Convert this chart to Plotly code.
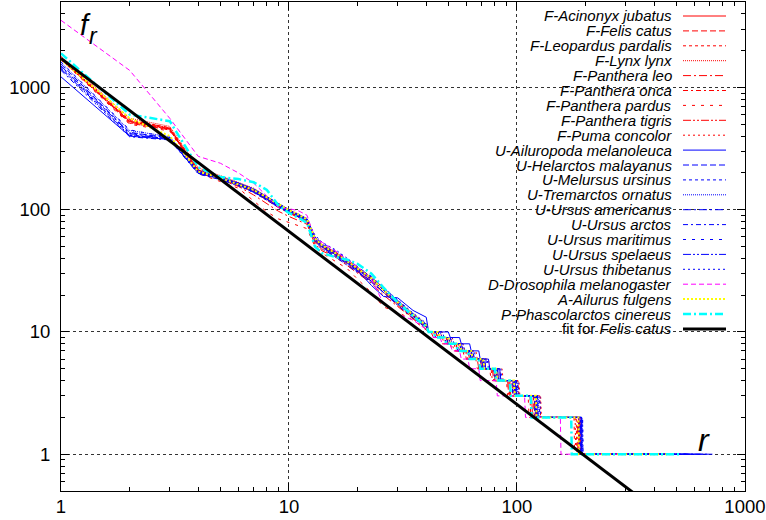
import plotly.graph_objects as go

# ---------------- data ----------------
R_HEAD = [1, 2, 3, 4, 5, 6, 7, 8, 9, 10, 11, 12, 13, 14, 16, 18, 20, 23, 26, 30, 35, 40]
TAIL_F = [10, 9, 8, 7, 6, 5, 4, 3, 2, 1]

NAMES = [
    "F-Acinonyx jubatus", "F-Felis catus", "F-Leopardus pardalis", "F-Lynx lynx",
    "F-Panthera leo", "F-Panthera onca", "F-Panthera pardus", "F-Panthera tigris",
    "F-Puma concolor", "U-Ailuropoda melanoleuca", "U-Helarctos malayanus",
    "U-Melursus ursinus", "U-Tremarctos ornatus", "U-Ursus americanus",
    "U-Ursus arctos", "U-Ursus maritimus", "U-Ursus spelaeus", "U-Ursus thibetanus",
    "D-Drosophila melanogaster", "A-Ailurus fulgens", "P-Phascolarctos cinereus",
]

# head frequencies at R_HEAD
H_ACINONYX = [1750, 530, 460, 210, 182, 160, 142, 122, 108, 96, 88, 80, 56, 50, 45, 38, 33, 27, 22, 17, 13.5, 11]
H_FELIS = [1720, 510, 450, 205, 178, 158, 140, 120, 104, 94, 86, 78, 54, 47, 42, 36, 31, 26, 21, 16.5, 13, 10.8]
H_LEOPARDUS = [1680, 540, 470, 215, 185, 165, 145, 125, 110, 98, 90, 82, 58, 51, 45, 39, 34, 28, 23, 18, 14, 11.5]
H_LYNX = [1800, 560, 480, 220, 190, 168, 150, 128, 112, 100, 92, 84, 60, 52, 44, 37, 32, 27, 22, 17, 13.5, 11]
H_LEO = [1700, 520, 455, 200, 176, 155, 132, 112, 97, 88, 82, 76, 52, 46, 41, 35, 30, 25, 20, 16, 12.8, 10.5]
H_ONCA = [1760, 545, 465, 212, 180, 162, 146, 124, 106, 95, 87, 79, 55, 49, 43, 37, 32, 26, 21, 16.8, 13.2, 10.9]
H_PARDUS = [1690, 500, 440, 198, 170, 150, 118, 96, 84, 78, 74, 70, 50, 44, 38, 33, 27, 21, 16, 14.5, 12.5, 10.4]
H_TIGRIS = [1740, 525, 458, 208, 184, 163, 144, 126, 109, 97, 89, 81, 57, 50, 44, 38, 33, 27.5, 22, 17.5, 13.8, 11.2]
H_PUMA = [1710, 515, 448, 206, 179, 160, 141, 121, 106, 95, 87, 79, 56, 49, 43, 38, 33, 27, 22, 17.2, 13.6, 11.3]
H_AILUROPODA = [1220, 400, 375, 200, 182, 165, 148, 128, 112, 99, 90, 82, 58, 50, 43, 37, 32, 24, 19.5, 19, 15, 13.2]
H_HELARCTOS = [1550, 430, 385, 205, 180, 160, 140, 122, 106, 96, 89, 82, 57, 50, 43, 37, 32, 27, 22, 17.5, 14, 11.5]
H_MELURSUS = [1450, 410, 380, 198, 178, 158, 138, 120, 105, 97, 90, 84, 60, 52, 45, 38, 33, 27, 22, 17, 13.5, 11]
H_TREMARCTOS = [1600, 445, 395, 210, 186, 166, 146, 127, 110, 99, 92, 85, 59, 51, 44, 38, 33, 28, 23, 18, 14.2, 11.6]
H_AMERICANUS = [1500, 420, 378, 202, 181, 162, 143, 124, 108, 98, 91, 83, 56, 49, 42, 36, 31, 26, 21, 16.8, 13.4, 11.2]
H_ARCTOS = [1380, 395, 372, 196, 176, 157, 139, 121, 104, 95, 88, 81, 55, 48, 41, 35, 30.5, 25.5, 21, 16.5, 13, 10.8]
H_MARITIMUS = [1620, 450, 390, 206, 183, 163, 144, 125, 109, 98, 90, 83, 60, 53, 46, 40, 34, 28.5, 23, 18, 14, 11.4]
H_SPELAEUS = [1420, 405, 382, 200, 179, 160, 141, 123, 107, 97, 89, 82, 57, 50, 43, 37, 32, 27, 22, 17.3, 13.7, 11.3]
H_THIBETANUS = [1480, 425, 388, 204, 182, 161, 142, 124, 108, 98, 90, 84, 62, 54, 47, 40, 34, 28, 23, 18.2, 14.3, 11.8]
H_DROSOPHILA = [3540, 1380, 559, 273, 240, 200, 165, 130, 104, 102, 98, 90, 58, 54, 46, 39, 34, 27, 17, 14, 12.5, 10.5]
H_AILURUS = [1700, 560, 400, 205, 182, 162, 145, 126, 110, 99, 91, 83, 58, 51, 44, 38, 33, 27.5, 22, 17.5, 13.8, 11.3]
H_PHASCOLARCTOS = [1900, 600, 530, 222, 185, 178, 168, 145, 108, 94, 86, 78, 50, 44, 41, 39, 36, 30, 23, 17.5, 13.5, 11]

# last rank holding each frequency of TAIL_F
T_ACINONYX = [44, 49, 54, 61, 69, 79, 93, 116, 186, 420]
T_FELIS = [43, 48, 53, 60, 68, 78, 92, 118, 188, 380]
T_LEOPARDUS = [46, 51, 57, 64, 72, 84, 101, 126, 182, 460]
T_LYNX = [44, 49, 55, 62, 70, 80, 96, 120, 190, 350]
T_LEO = [42, 47, 52, 59, 67, 77, 91, 114, 184, 500]
T_ONCA = [44, 49, 54, 61, 70, 81, 95, 119, 187, 440]
T_PARDUS = [42, 46, 51, 58, 66, 76, 90, 112, 178, 400]
T_TIGRIS = [45, 50, 56, 63, 71, 82, 97, 121, 189, 520]
T_PUMA = [47, 52, 58, 66, 75, 86, 102, 127, 180, 480]
T_AILUROPODA = [50, 56, 62, 68, 75, 84, 98, 122, 192, 720]
T_HELARCTOS = [45, 50, 56, 63, 72, 82, 99, 123, 191, 600]
T_MELURSUS = [44, 49, 55, 62, 70, 81, 97, 121, 189, 560]
T_TREMARCTOS = [46, 51, 57, 64, 72, 83, 100, 124, 193, 540]
T_AMERICANUS = [45, 50, 56, 62, 70, 80, 96, 120, 190, 610]
T_ARCTOS = [43, 48, 54, 61, 69, 79, 95, 119, 187, 650]
T_MARITIMUS = [46, 51, 57, 64, 73, 84, 100, 125, 194, 580]
T_SPELAEUS = [45, 50, 56, 63, 71, 82, 98, 122, 191, 690]
T_THIBETANUS = [47, 52, 58, 65, 74, 85, 101, 126, 194, 620]
T_DROSOPHILA = [42, 46, 51, 56, 61, 68, 81, 108, 155, 290]
T_AILURUS = [45, 50, 56, 63, 71, 81, 97, 121, 186, 470]
T_PHASCOLARCTOS = [43, 48, 54, 61, 68, 80, 93, 115, 173, 530]

FIT_A = 1726.0   # fit for Felis catus: f = A * r^-B
FIT_B = 1.415
FIT_R = [1, 1000]

HEADS = [H_ACINONYX, H_FELIS, H_LEOPARDUS, H_LYNX, H_LEO, H_ONCA, H_PARDUS, H_TIGRIS,
         H_PUMA, H_AILUROPODA, H_HELARCTOS, H_MELURSUS, H_TREMARCTOS, H_AMERICANUS,
         H_ARCTOS, H_MARITIMUS, H_SPELAEUS, H_THIBETANUS, H_DROSOPHILA, H_AILURUS,
         H_PHASCOLARCTOS]
TAILS = [T_ACINONYX, T_FELIS, T_LEOPARDUS, T_LYNX, T_LEO, T_ONCA, T_PARDUS, T_TIGRIS,
         T_PUMA, T_AILUROPODA, T_HELARCTOS, T_MELURSUS, T_TREMARCTOS, T_AMERICANUS,
         T_ARCTOS, T_MARITIMUS, T_SPELAEUS, T_THIBETANUS, T_DROSOPHILA, T_AILURUS,
         T_PHASCOLARCTOS]

# ---------------- styles ----------------
RED, BLUE = "#ff0000", "#0000ff"
PATTERNS = ["solid", "6px,3px", "3px,3px", "1px,1px", "8px,3px,2px,3px",
            "5px,3px,2px,3px", "3px,6px", "8px,2px,2px,2px,2px,2px", "2px,3px"]
STYLES = [(RED, p, 1.0) for p in PATTERNS] + [(BLUE, p, 1.0) for p in PATTERNS] + [
    ("#ff00ff", "5px,3px", 1.0),
    ("#ffff00", "2px,2px", 2.0),
    ("#00ffff", "8px,3px,2px,3px", 2.5),
]

# ---------------- geometry (pixels) ----------------
W, H = 766, 520
L, R, T, B = 61, 21, 2, 29
PW, PH = W - L - R, H - T - B


def px(x):
    return (x - L) / PW


def py(y):
    return (H - B - y) / PH


fig = go.Figure()

for name, head, tail, (col, dash, wid) in zip(NAMES, HEADS, TAILS, STYLES):
    xs = list(R_HEAD)
    ys = list(head)
    prev = R_HEAD[-1]
    for f, end in zip(TAIL_F, tail):
        start = prev + 1
        xs += [start, end]
        ys += [f, f]
        prev = end
    fig.add_trace(go.Scatter(x=xs, y=ys, mode="lines", name=name, showlegend=False,
                             line=dict(color=col, width=wid, dash=dash)))

fig.add_trace(go.Scatter(x=FIT_R, y=[FIT_A * r ** (-FIT_B) for r in FIT_R], mode="lines",
                         name="fit for Felis catus", showlegend=False,
                         line=dict(color="black", width=3)))

FONT = "Liberation Sans, Arial, Helvetica, sans-serif"

shapes = [dict(type="rect", xref="paper", yref="paper", x0=px(385), x1=1, y0=py(368), y1=1,
               fillcolor="white", line=dict(width=0), layer="between")]
annotations = []
legend_items = list(zip(NAMES, STYLES)) + [("fit for <i>Felis catus</i>", ("black", "solid", 3))]
for i, (label, (col, dash, wid)) in enumerate(legend_items):
    yc = 16 + i * 14.9
    text = label if label.startswith("fit") else "<i>%s</i>" % label
    annotations.append(dict(x=px(674), y=py(yc), xref="paper", yref="paper", text=text,
                            showarrow=False, xanchor="right", yanchor="middle",
                            font=dict(family=FONT, size=15, color="black")))
    shapes.append(dict(type="line", xref="paper", yref="paper", x0=px(683), x1=px(726),
                       y0=py(yc), y1=py(yc), line=dict(color=col, width=wid, dash=dash),
                       layer="above"))

annotations += [
    dict(x=px(85), y=py(25), xref="paper", yref="paper", text="<i>f</i>", showarrow=False,
         xanchor="center", yanchor="middle", font=dict(family=FONT, size=29, color="black")),
    dict(x=px(93), y=py(36), xref="paper", yref="paper", text="<i>r</i>", showarrow=False,
         xanchor="center", yanchor="middle", font=dict(family=FONT, size=23, color="black")),
    dict(x=px(704), y=py(440), xref="paper", yref="paper", text="<i>r</i>", showarrow=False,
         xanchor="center", yanchor="middle", font=dict(family=FONT, size=32, color="black")),
]

axis_common = dict(
    type="log", dtick=1, tickformat="d",
    showline=True, linecolor="black", linewidth=1, mirror="allticks",
    ticks="inside", ticklen=8, tickcolor="black", tickwidth=1,
    showgrid=True, gridcolor="#333333", griddash="dot", gridwidth=1,
    zeroline=False,
    tickfont=dict(family=FONT, size=18.5, color="black"),
    minor=dict(ticks="inside", ticklen=4, tickcolor="black", dtick="D1", showgrid=False),
)

fig.update_layout(
    width=W, height=H,
    margin=dict(l=L, r=R, t=T, b=B, autoexpand=False),
    paper_bgcolor="white", plot_bgcolor="white",
    showlegend=False,
    xaxis=dict(range=[0, 3.0003], ticklabelstandoff=-1, **axis_common),
    yaxis=dict(range=[-0.30103, 3.69897], ticklabelstandoff=6, **axis_common),
    shapes=shapes,
    annotations=annotations,
)

fig.write_html("out.html", config={"displayModeBar": False},
               post_script="document.body.style.margin='0';document.body.style.overflow='hidden';")
